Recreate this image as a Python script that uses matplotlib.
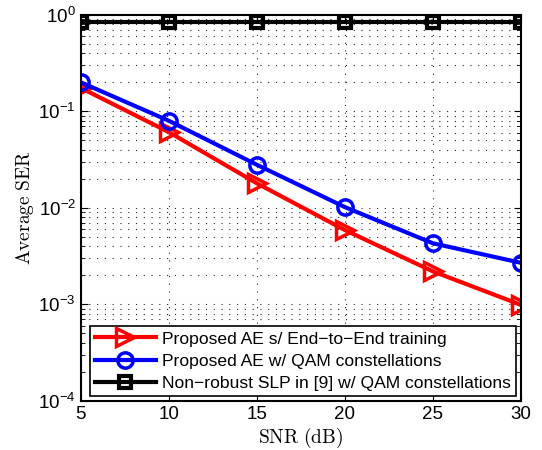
import numpy as np
from matplotlib import pyplot as plt

plt.rcParams['mathtext.fontset'] = 'cm'
plt.rcParams['font.family'] = ['Liberation Sans', 'DejaVu Sans']

snr = [5, 10, 15, 20, 25, 30]
ser_e2e = [0.175, 0.061, 0.018, 0.0059, 0.0022, 0.00099]
ser_qam = [0.20, 0.080, 0.028, 0.0102, 0.0043, 0.0027]
ser_slp = [0.845, 0.845, 0.845, 0.845, 0.845, 0.845]

labels = ["Proposed AE s/ End\u2212to\u2212End training",
          "Proposed AE w/ QAM constellations",
          "Non\u2212robust SLP in [9] w/ QAM constellations"]

fig = plt.figure(figsize=(5.42, 4.5), dpi=100)
ax = fig.add_axes([0.149, 0.109, 0.812, 0.858])

ax.semilogy(snr, ser_e2e, color='red', lw=3, marker='>', ms=13, mfc='none', mew=2.5, label=labels[0])
ax.semilogy(snr, ser_qam, color='blue', lw=3, marker='o', ms=11, mfc='none', mew=2.5, label=labels[1])
ax.semilogy(snr, ser_slp, color='black', lw=3, marker='s', ms=9, mfc='none', mew=3, label=labels[2])

ax.set_xlim(5, 30)
ax.set_ylim(1e-4, 1)
ax.set_xticks(snr)
ax.grid(True, which='major', ls=(0, (1, 6)), color='0.15', lw=0.8)
ax.grid(True, which='minor', axis='y', ls=(0, (1, 6)), color='0.15', lw=0.8)
ax.tick_params(which='both', direction='in', top=True, right=True, labelsize=13.5)
ax.tick_params(which='major', length=5)
ax.tick_params(which='minor', length=3)
for s in ax.spines.values():
    s.set_linewidth(1.5)

ax.set_xlabel(r'$\mathrm{SNR\ (dB)}$', fontsize=14, labelpad=2)
ax.set_ylabel(r'$\mathrm{Average\ SER}$', fontsize=14, labelpad=2)

leg = ax.legend(loc='lower left', bbox_to_anchor=(0.02, 0.012), fontsize=12.6, fancybox=False,
                edgecolor='black', framealpha=1, borderaxespad=0, handlelength=3.5,
                borderpad=0.3, labelspacing=0.4, handletextpad=0.35)
leg.get_frame().set_linewidth(1.2)

fig.savefig("out.png", dpi=100)
